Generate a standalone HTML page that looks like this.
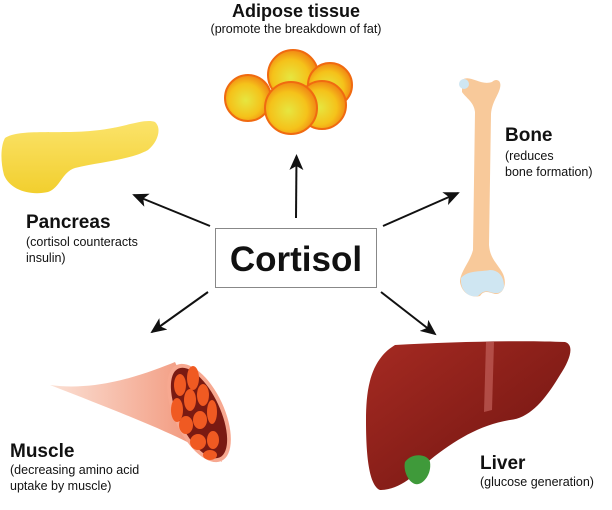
<!DOCTYPE html>
<html><head><meta charset="utf-8"><style>
body{margin:0;background:#fff;}
svg{display:block;}
text{font-family:"Liberation Sans",sans-serif;fill:#111;}
.b{font-weight:bold;}
</style></head><body>
<svg width="612" height="510" viewBox="0 0 612 510" xmlns="http://www.w3.org/2000/svg">
<defs>
<radialGradient id="fat" cx="0.45" cy="0.55" r="0.6"><stop offset="0" stop-color="#e6e640"/><stop offset="0.6" stop-color="#f5c21a"/><stop offset="1" stop-color="#f07a12"/></radialGradient>
<linearGradient id="panc" x1="0" y1="0" x2="0" y2="1"><stop offset="0" stop-color="#fbe36a"/><stop offset="1" stop-color="#f2cf2e"/></linearGradient>
<linearGradient id="liver" x1="0" y1="0" x2="1" y2="1"><stop offset="0" stop-color="#a52a22"/><stop offset="1" stop-color="#6e1410"/></linearGradient>
<linearGradient id="mus" x1="0" y1="0" x2="1" y2="0"><stop offset="0" stop-color="#fbe0d4"/><stop offset="1" stop-color="#f08a6c"/></linearGradient>
<marker id="ah" markerWidth="16" markerHeight="14" refX="14" refY="7" orient="auto" markerUnits="userSpaceOnUse"><path d="M0,0 L16,7 L0,14 L4,7 Z" fill="#111"/></marker>
</defs>

<!-- fat cells -->
<g stroke="#f06a10" stroke-width="2">
<circle cx="293" cy="75" r="25" fill="url(#fat)"/>
<circle cx="330" cy="85" r="22" fill="url(#fat)"/>
<circle cx="248" cy="98" r="23" fill="url(#fat)"/>
<circle cx="322" cy="105" r="24" fill="url(#fat)"/>
<circle cx="291" cy="108" r="26" fill="url(#fat)"/>
</g>

<!-- pancreas -->
<path d="M5,138 C20,128 60,135 100,130 C125,127 145,118 155,122 C162,128 158,142 148,150 C130,160 100,162 75,168 C62,172 60,188 48,192 C30,196 10,190 4,175 C0,160 1,145 5,138 Z" fill="url(#panc)"/>

<!-- bone -->
<path d="M462,80 C470,74 480,86 492,82 C496,78 502,80 500,88 C498,96 492,102 491,114 L489,245 C490,258 496,262 502,272 C508,282 504,295 495,294 C488,292 484,290 480,296 C472,298 462,294 460,282 C460,272 470,262 473,250 L475,112 C474,102 466,98 462,92 Z" fill="#f8c99a"/>
<path d="M461,278 C468,270 480,272 490,270 C498,270 504,276 504,286 C503,294 496,294 490,292 C485,290 482,292 478,296 C470,298 460,292 461,278 Z" fill="#cfe6f2"/>
<circle cx="464" cy="84" r="5" fill="#cfe6f2"/>

<!-- muscle -->
<path d="M50,385 C100,392 150,372 175,362 L222,462 C190,440 140,420 50,385 Z" fill="url(#mus)"/>
<ellipse cx="199" cy="413" rx="25" ry="53" transform="rotate(-25 199 413)" fill="#f7a890"/>
<ellipse cx="199" cy="413" rx="21" ry="49" transform="rotate(-25 199 413)" fill="#7a1a12"/>
<g fill="#f05a22">
<ellipse cx="180" cy="385" rx="6" ry="11"/><ellipse cx="193" cy="378" rx="6" ry="12"/>
<ellipse cx="177" cy="410" rx="6" ry="12"/><ellipse cx="190" cy="400" rx="6" ry="11"/>
<ellipse cx="203" cy="395" rx="6" ry="11"/><ellipse cx="186" cy="425" rx="7" ry="9"/>
<ellipse cx="200" cy="420" rx="7" ry="9"/><ellipse cx="212" cy="412" rx="5" ry="12"/>
<ellipse cx="198" cy="442" rx="8" ry="8"/><ellipse cx="213" cy="440" rx="6" ry="9"/>
<ellipse cx="210" cy="455" rx="7" ry="5"/>
</g>

<!-- liver -->
<path d="M395,345 C450,342 520,340 565,342 C575,345 570,360 560,375 C545,400 530,418 510,420 C480,425 455,440 430,460 C415,475 400,490 380,490 C368,485 366,450 366,420 C366,390 370,360 395,345 Z" fill="url(#liver)"/>
<path d="M486,342 L494,342 L492,410 L484,412 Z" fill="#c2605a" opacity="0.7"/>
<path d="M405,462 C412,452 428,454 430,462 C432,475 422,486 415,484 C408,482 403,470 405,462 Z" fill="#3f9a3a"/>

<!-- box -->
<rect x="215.5" y="228.5" width="161" height="59" fill="#fff" stroke="#888" stroke-width="1"/>
<text x="296" y="271" text-anchor="middle" class="b" font-size="35">Cortisol</text>

<!-- arrows -->
<g stroke="#111" stroke-width="2" fill="none" marker-end="url(#ah)">
<line x1="296" y1="218" x2="296.5" y2="156"/>
<line x1="210" y1="226" x2="134" y2="195"/>
<line x1="383" y1="226" x2="458" y2="193"/>
<line x1="208" y1="292" x2="152" y2="332"/>
<line x1="381" y1="292" x2="435" y2="334"/>
</g>

<!-- labels -->
<text x="296" y="17" text-anchor="middle" class="b" font-size="18">Adipose tissue</text>
<text x="296" y="33" text-anchor="middle" font-size="12.5">(promote the breakdown of fat)</text>

<text x="26" y="228" class="b" font-size="19">Pancreas</text>
<text x="26" y="246" font-size="12.5">(cortisol counteracts</text>
<text x="26" y="262" font-size="12.5">insulin)</text>

<text x="505" y="141" class="b" font-size="19">Bone</text>
<text x="505" y="160" font-size="12.5">(reduces</text>
<text x="505" y="176" font-size="12.5">bone formation)</text>

<text x="10" y="457" class="b" font-size="19">Muscle</text>
<text x="10" y="474" font-size="12.5">(decreasing amino acid</text>
<text x="10" y="490" font-size="12.5">uptake by muscle)</text>

<text x="480" y="469" class="b" font-size="19">Liver</text>
<text x="480" y="486" font-size="12.5">(glucose generation)</text>
</svg>
</body></html>
